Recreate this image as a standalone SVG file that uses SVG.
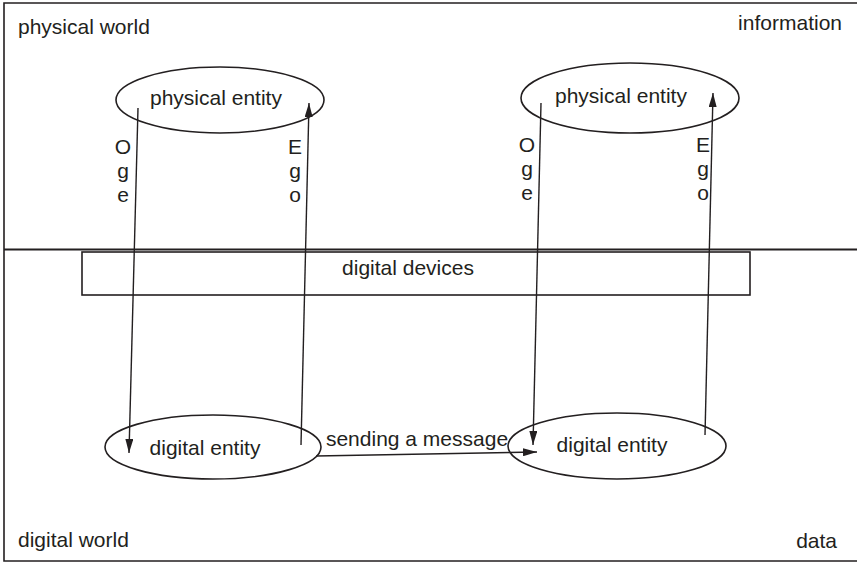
<svg xmlns="http://www.w3.org/2000/svg" width="857" height="564" viewBox="0 0 857 564">
<style>
text{font-family:"Liberation Sans",Arial,sans-serif;font-size:21px;fill:#231f20}
.m{text-anchor:middle}
.node{fill:none;stroke:#231f20;stroke-width:1.6}
.frame{fill:none;stroke:#231f20;stroke-width:1.6}
.conn line{stroke:#231f20;stroke-width:1.4;marker-end:url(#ah)}
</style>
<defs>
<marker id="ah" markerWidth="14" markerHeight="8" refX="14" refY="4" orient="auto" markerUnits="userSpaceOnUse">
<path d="M0,0 L14,4 L0,8 Z" fill="#231f20"/>
</marker>
</defs>
<rect width="857" height="564" fill="#fff"/>
<g id="frame">
<path class="frame" d="M857,3 H4 V561 H857"/>
<line x1="4" y1="249.5" x2="857" y2="249.5" stroke="#231f20" stroke-width="2"/>
<text x="18" y="34">physical world</text>
<text x="842" y="30" text-anchor="end">information</text>
<text x="18" y="547">digital world</text>
<text x="837" y="548" text-anchor="end">data</text>
</g>
<g id="digital-devices">
<rect class="node" x="82" y="252" width="668" height="43"/>
<text class="m" x="408" y="275">digital devices</text>
</g>
<g id="physical-entity-1">
<ellipse class="node" cx="220" cy="100" rx="104" ry="33"/>
<text x="150" y="105">physical entity</text>
</g>
<g id="physical-entity-2">
<ellipse class="node" cx="630" cy="98" rx="109" ry="35"/>
<text x="555" y="103">physical entity</text>
</g>
<g id="digital-entity-1">
<ellipse class="node" cx="213" cy="447" rx="108" ry="32"/>
<text class="m" x="205" y="455">digital entity</text>
</g>
<g id="digital-entity-2">
<ellipse class="node" cx="617" cy="446" rx="109" ry="33"/>
<text class="m" x="612" y="452">digital entity</text>
</g>
<g id="connectors" class="conn">
<line x1="138" y1="108" x2="129" y2="453"/>
<line x1="301" y1="445" x2="309" y2="103"/>
<line x1="541" y1="103" x2="533" y2="445"/>
<line x1="705" y1="435" x2="713" y2="93"/>
<line x1="316" y1="456" x2="537" y2="452"/>
</g>
<g id="labels">
<text class="m" x="123" y="154">O</text>
<text class="m" x="123" y="178">g</text>
<text class="m" x="123" y="202">e</text>
<text class="m" x="295" y="154">E</text>
<text class="m" x="295" y="178">g</text>
<text class="m" x="295" y="202">o</text>
<text class="m" x="527" y="152">O</text>
<text class="m" x="527" y="176">g</text>
<text class="m" x="527" y="200">e</text>
<text class="m" x="703" y="152">E</text>
<text class="m" x="703" y="176">g</text>
<text class="m" x="703" y="200">o</text>
<text class="m" x="417" y="446">sending a message</text>
</g>
</svg>
